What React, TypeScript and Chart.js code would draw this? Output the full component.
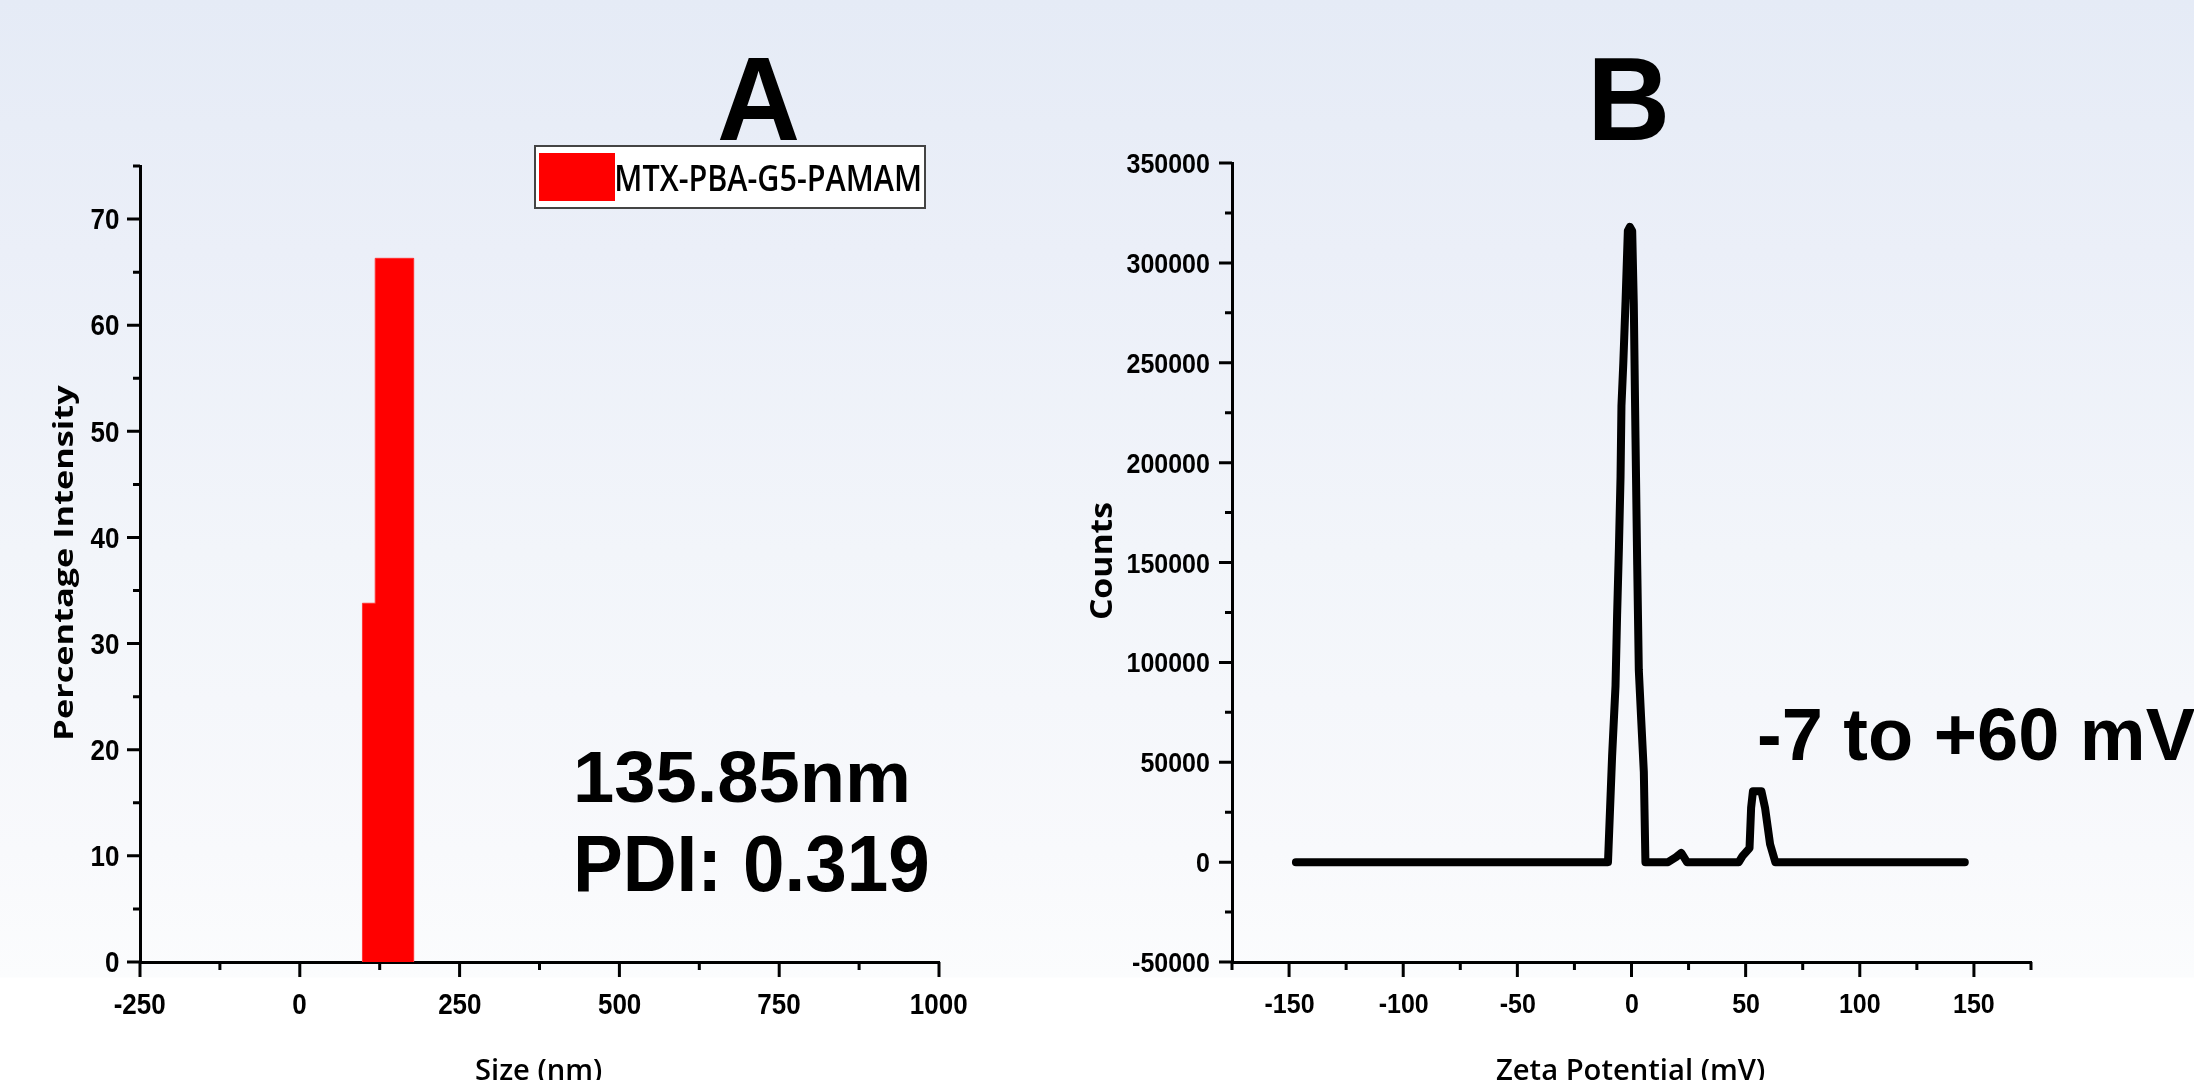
import React, { useEffect, useRef } from 'react';
import { Chart, registerables } from 'chart.js';

Chart.register(...registerables);

// ---------- Panel A: size distribution (histogram) ----------
const sizeBinEdges = [98, 118, 178]; // nm
const sizeBinIntensity = [33.8, 66.3]; // %
const sizeTicks = [-250, 0, 250, 500, 750, 1000];
const sizeMinorTicks = [-125, 125, 375, 625, 875];
const intensityTicks = [0, 10, 20, 30, 40, 50, 60, 70];
const intensityMinorTicks = [5, 15, 25, 35, 45, 55, 65, 75];
const seriesNameA = 'MTX-PBA-G5-PAMAM';

// ---------- Panel B: zeta potential distribution ----------
const zetaPotential = [
  -147, -10.3, -8.5, -7.0, -6.3, -5.5, -4.8, -4.4, -3.6, -2.6, -1.6, -0.7, 0.3, 1.0, 1.75, 2.5,
  3.2, 4.2, 5.4, 6.1, 16, 19.5, 21.8, 24.3, 47, 48.6, 51.7, 52.4, 53.2, 56.9, 58.5, 60.7, 63, 146,
];
const zetaCounts = [
  0, 0, 53000, 88300, 124000, 157800, 193000, 228500, 249600, 281000, 316000, 318000, 316000,
  279500, 212500, 148700, 96200, 72500, 45100, 0, 0, 2500, 4600, 0, 0, 3000, 7000, 27200, 35500,
  35500, 27200, 9000, 0, 0,
];
const zetaTicks = [-150, -100, -50, 0, 50, 100, 150];
const zetaMinorTicks = [-175, -125, -75, -25, 25, 75, 125, 175];
const countTicks = [-50000, 0, 50000, 100000, 150000, 200000, 250000, 300000, 350000];
const countMinorTicks = [-25000, 25000, 75000, 125000, 175000, 225000, 275000, 325000];

const W = 2194;
const H = 1080;
const SANS = '"Liberation Sans", Arial, sans-serif';
const OPEN = '"Open Sans", sans-serif';

type InkSpec = {
  text: string;
  font: string;
  x: number; // anchor along text direction
  align?: 'left' | 'center' | 'right';
  width?: number; // target ink length (along text direction)
  baseline: number;
  sy?: number; // stretch across text direction
  vertical?: boolean;
  color?: string;
};

function drawInk(ctx: CanvasRenderingContext2D, s: InkSpec) {
  ctx.save();
  ctx.font = s.font;
  ctx.fillStyle = s.color ?? '#000';
  ctx.textAlign = 'left';
  ctx.textBaseline = 'alphabetic';
  const m = ctx.measureText(s.text);
  const L = m.actualBoundingBoxLeft;
  const inkW = m.actualBoundingBoxLeft + m.actualBoundingBoxRight;
  const sx = s.width !== undefined ? s.width / inkW : 1;
  const len = inkW * sx;
  const align = s.align ?? 'left';
  // start of ink along text direction (screen coordinate)
  let start: number;
  if (s.vertical) {
    // text runs upward: x is screen y
    start = align === 'left' ? s.x : align === 'center' ? s.x + len / 2 : s.x + len;
    ctx.translate(s.baseline, start);
    ctx.rotate(-Math.PI / 2);
  } else {
    start = align === 'left' ? s.x : align === 'center' ? s.x - len / 2 : s.x - len;
    ctx.translate(start, s.baseline);
  }
  ctx.scale(sx, s.sy ?? 1);
  ctx.fillText(s.text, L, 0);
  ctx.restore();
}

type AxisLabelStyle = { font: string; size: number; sy: number; gap: number; baseline: number };

function drawAxes(
  chart: any,
  xMajor: number[],
  xMinor: number[],
  yMajor: number[],
  yMinor: number[],
  st: AxisLabelStyle,
) {
  const { ctx, chartArea, scales } = chart;
  const x = scales.x;
  const y = scales.y;
  ctx.save();
  ctx.strokeStyle = '#000';
  ctx.lineWidth = 3;
  ctx.beginPath();
  const yb = chartArea.bottom;
  const xl = chartArea.left;
  xMajor.forEach((v) => {
    const p = x.getPixelForValue(v);
    ctx.moveTo(p, yb);
    ctx.lineTo(p, yb + 15);
  });
  xMinor.forEach((v) => {
    const p = x.getPixelForValue(v);
    ctx.moveTo(p, yb);
    ctx.lineTo(p, yb + 8);
  });
  yMajor.forEach((v) => {
    const p = y.getPixelForValue(v);
    ctx.moveTo(xl, p);
    ctx.lineTo(xl - 13, p);
  });
  yMinor.forEach((v) => {
    const p = y.getPixelForValue(v);
    ctx.moveTo(xl, p);
    ctx.lineTo(xl - 7, p);
  });
  ctx.stroke();
  ctx.restore();

  const font = `bold ${st.size}px ${st.font}`;
  const capH = 0.716 * st.size * st.sy;
  xMajor.forEach((v) => {
    drawInk(ctx, { text: String(v), font, x: x.getPixelForValue(v), align: 'center', baseline: st.baseline, sy: st.sy });
  });
  yMajor.forEach((v) => {
    drawInk(ctx, {
      text: String(v),
      font,
      x: xl - st.gap,
      align: 'right',
      baseline: y.getPixelForValue(v) + capH / 2,
      sy: st.sy,
    });
  });
}

function axisCommon(min: number, max: number, ticks: number[], isX: boolean) {
  return {
    type: 'linear' as const,
    min,
    max,
    afterBuildTicks: (scale: any) => {
      scale.ticks = ticks.map((v) => ({ value: v }));
    },
    afterFit: (scale: any) => {
      if (isX) scale.height = H - 962;
      else scale.width = 140;
    },
    ticks: { display: false, callback: (v: any) => String(v) },
    grid: { display: true, drawOnChartArea: false, drawTicks: false },
    border: { display: true, color: '#000', width: 3 },
    title: { display: false },
  };
}

export default function App() {
  const refA = useRef<HTMLCanvasElement | null>(null);
  const refB = useRef<HTMLCanvasElement | null>(null);

  useEffect(() => {
    if (!refA.current || !refB.current) return;

    // histogram outline built from bin edges and heights
    const histPoints: { x: number; y: number }[] = [{ x: sizeBinEdges[0], y: 0 }];
    sizeBinIntensity.forEach((h, i) => {
      histPoints.push({ x: sizeBinEdges[i], y: h });
      histPoints.push({ x: sizeBinEdges[i + 1], y: h });
    });
    histPoints.push({ x: sizeBinEdges[sizeBinEdges.length - 1], y: 0 });

    const decorA = {
      id: 'decorA',
      afterDraw(chart: any) {
        const ctx = chart.ctx as CanvasRenderingContext2D;
        drawAxes(chart, sizeTicks, sizeMinorTicks, intensityTicks, intensityMinorTicks, {
          font: SANS,
          size: 26,
          sy: 1.1,
          gap: 21,
          baseline: 1014,
        });
        drawInk(ctx, { text: 'A', font: `bold 118px ${SANS}`, x: 719, width: 79, baseline: 140 });
        // legend box
        ctx.save();
        ctx.fillStyle = '#ffffff';
        ctx.fillRect(535, 146, 390, 62);
        ctx.strokeStyle = '#444';
        ctx.lineWidth = 2;
        ctx.strokeRect(535, 146, 390, 62);
        ctx.fillStyle = '#ff0000';
        ctx.fillRect(539, 153, 76, 48);
        ctx.restore();
        drawInk(ctx, { text: seriesNameA, font: `600 34px ${OPEN}`, x: 617, width: 303, baseline: 191, sy: 1.05 });
        drawInk(ctx, { text: '135.85nm', font: `bold 73px ${SANS}`, x: 577, width: 330, baseline: 802 });
        drawInk(ctx, { text: 'PDI: 0.319', font: `bold 73px ${SANS}`, x: 577, width: 350, baseline: 891, sy: 1.08 });
        drawInk(ctx, { text: 'Percentage Intensity', font: `bold 26px ${OPEN}`, x: 738, width: 353, baseline: 73, vertical: true });
        drawInk(ctx, { text: 'Size (nm)', font: `600 29px ${OPEN}`, x: 476, width: 126, baseline: 1080 });
      },
    };

    const decorB = {
      id: 'decorB',
      afterDraw(chart: any) {
        const ctx = chart.ctx as CanvasRenderingContext2D;
        drawAxes(chart, zetaTicks, zetaMinorTicks, countTicks, countMinorTicks, {
          font: SANS,
          size: 25,
          sy: 1.12,
          gap: 23,
          baseline: 1013,
        });
        drawInk(ctx, { text: 'B', font: `bold 118px ${SANS}`, x: 1594, width: 71, baseline: 140 });
        drawInk(ctx, { text: '-7 to +60 mV', font: `bold 74px ${SANS}`, x: 1759, baseline: 760 });
        drawInk(ctx, { text: 'Counts', font: `bold 30px ${OPEN}`, x: 619, width: 116, baseline: 1112, vertical: true });
        drawInk(ctx, { text: 'Zeta Potential (mV)', font: `600 29px ${OPEN}`, x: 1496, width: 269, baseline: 1080 });
      },
    };

    const chartA = new Chart(refA.current, {
      type: 'line',
      data: {
        datasets: [
          {
            label: seriesNameA,
            data: histPoints,
            backgroundColor: '#ff0000',
            borderColor: '#ff3030',
            borderWidth: 1,
            fill: 'origin',
            pointRadius: 0,
            tension: 0,
          },
        ],
      },
      options: {
        animation: false,
        responsive: false,
        devicePixelRatio: 1,
        layout: { padding: { left: 0, top: 166, right: W - 939, bottom: 0 } },
        plugins: { legend: { display: false }, tooltip: { enabled: false } },
        scales: {
          x: axisCommon(-250, 1000, sizeTicks, true),
          y: axisCommon(0, 75, intensityTicks, false),
        },
      },
      plugins: [decorA],
    });

    const chartB = new Chart(refB.current, {
      type: 'line',
      data: {
        datasets: [
          {
            label: 'Zeta potential',
            data: zetaPotential.map((v, i) => ({ x: v, y: zetaCounts[i] })),
            borderColor: '#000',
            borderWidth: 8,
            borderJoinStyle: 'round',
            borderCapStyle: 'round',
            fill: false,
            pointRadius: 0,
            tension: 0,
          },
        ],
      },
      options: {
        animation: false,
        responsive: false,
        devicePixelRatio: 1,
        layout: { padding: { left: 1232 - 140, top: 163, right: W - 2031, bottom: 0 } },
        plugins: { legend: { display: false }, tooltip: { enabled: false } },
        scales: {
          x: axisCommon(-175, 175, zetaTicks, true),
          y: axisCommon(-50000, 350000, countTicks, false),
        },
      },
      plugins: [decorB],
    });

    return () => {
      chartA.destroy();
      chartB.destroy();
    };
  }, []);

  return (
    <div
      style={{
        position: 'fixed',
        left: 0,
        top: 0,
        width: W,
        height: H,
        overflow: 'hidden',
        background:
          'linear-gradient(to bottom, #e5ebf6 0px, #ebeff8 250px, #f2f5fa 550px, #f8f9fc 850px, #fbfcfd 977px, #ffffff 978px, #ffffff 1080px)',
      }}
    >
      <canvas ref={refA} width={W} height={H} style={{ position: 'absolute', left: 0, top: 0, width: W, height: H }} />
      <canvas ref={refB} width={W} height={H} style={{ position: 'absolute', left: 0, top: 0, width: W, height: H }} />
    </div>
  );
}
